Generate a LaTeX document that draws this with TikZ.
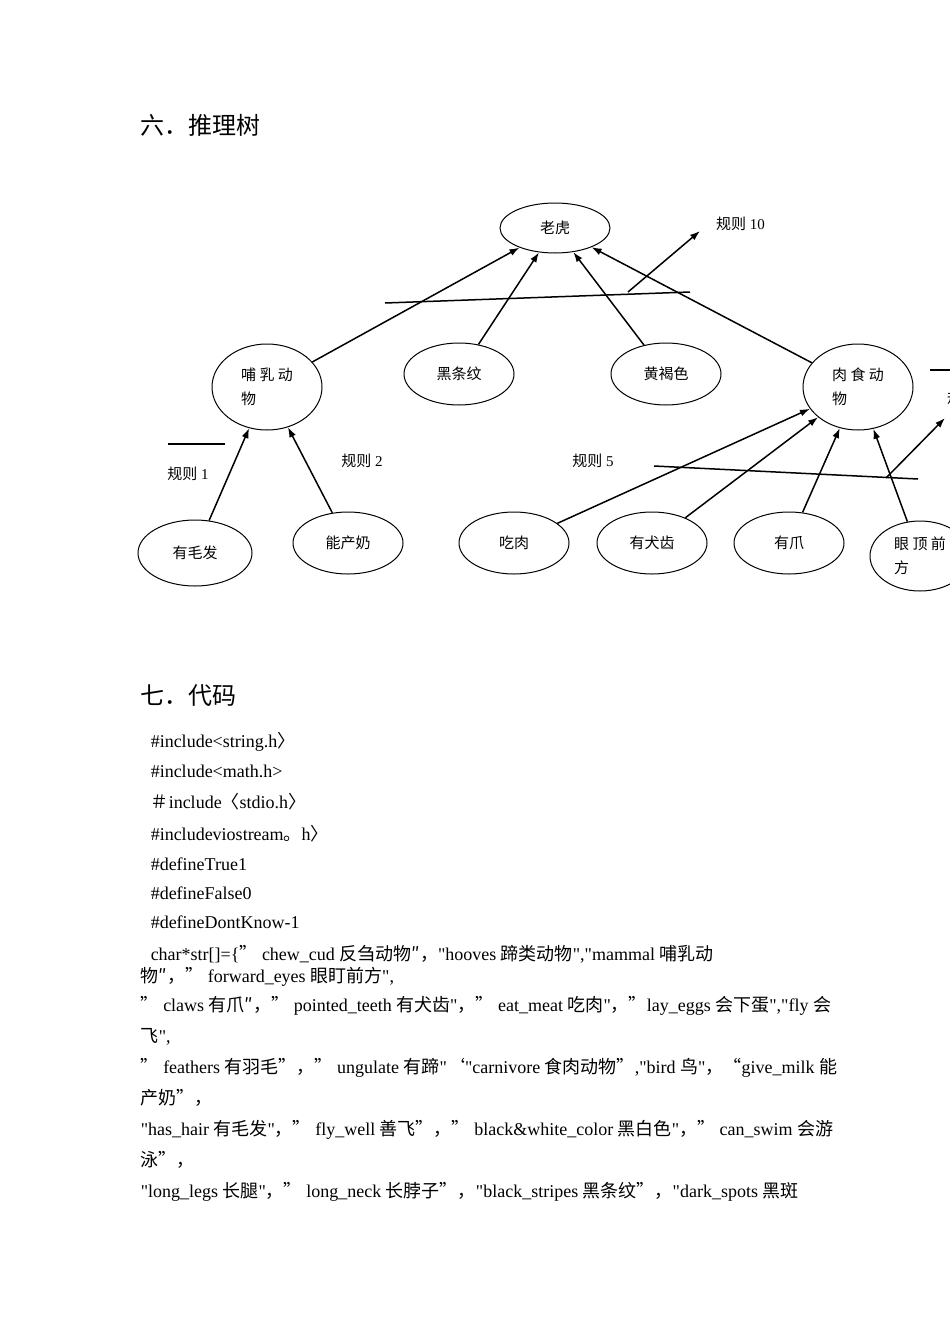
\documentclass[tikz,border=0pt]{standalone}
\usepackage{fontspec}
\setmainfont{Liberation Serif}[Ligatures=TeXOff]
\newfontfamily\cjk{Noto Sans CJK SC}
\newcommand{\zh}[1]{{\cjk #1}}
\newcommand{\dq}{\char34\relax}
\usetikzlibrary{shapes.geometric,arrows.meta}
\tikzstyle{fact}=[draw, line width=1pt, ellipse, minimum width=110pt, minimum height=62pt, inner sep=0pt, font=\fontsize{15}{24}\selectfont]
\tikzstyle{bigfact}=[fact, minimum height=86pt, align=left]
\tikzstyle{rule}=[font=\fontsize{15}{18}\selectfont]
\tikzstyle{code}=[anchor=west, inner sep=0pt, font=\fontsize{18}{22}\selectfont]
\tikzstyle{head}=[anchor=west, inner sep=0pt, font=\fontsize{24}{28}\selectfont]
\begin{document}
\begin{tikzpicture}[x=1pt, y=-1pt, >={Latex[length=10pt,width=7pt]}, line width=1.5pt]
  \useasboundingbox (0,0) rectangle (950,1344);
  \clip (0,0) rectangle (950,1344);
  \node[head] (h6) at (140,125) {\zh{六．推理树}};
  % tree
  \node[fact, minimum height=50pt] (tiger) at (555,228) {\zh{老虎}};
  \node[bigfact] (mammal) at (267,387) {\zh{哺 乳 动}\\\zh{物}};
  \node[fact] (stripes) at (459,374) {\zh{黑条纹}};
  \node[fact] (tawny) at (666,374) {\zh{黄褐色}};
  \node[bigfact] (carn) at (858,387) {\zh{肉 食 动}\\\zh{物}};
  \node[fact, minimum width=114pt, minimum height=66pt] (hair) at (195,553) {\zh{有毛发}};
  \node[fact] (milk) at (348,543) {\zh{能产奶}};
  \node[fact] (meat) at (514,543) {\zh{吃肉}};
  \node[fact] (teeth) at (652,543) {\zh{有犬齿}};
  \node[fact] (claws) at (789,543) {\zh{有爪}};
  \node[fact, minimum width=100pt, minimum height=70pt, align=left] (eyes) at (920,556) {\zh{眼 顶 前}\\\zh{方}};
  \draw[->] (mammal) -- (tiger);
  \draw[->] (stripes) -- (tiger);
  \draw[->] (tawny) -- (tiger);
  \draw[->] (carn) -- (tiger);
  \draw[->] (hair) -- (mammal);
  \draw[->] (milk) -- (mammal);
  \draw[->] (meat) -- (carn);
  \draw[->] (teeth) -- (carn);
  \draw[->] (claws) -- (carn);
  \draw[->] (eyes) -- (carn);
  % rules
  \coordinate (r10a) at (385,303);
  \coordinate (r10b) at (690,292);
  \coordinate (r10c) at (628,292);
  \coordinate (r10d) at (700,231);
  \draw (r10a) -- (r10b);
  \draw[->] (r10c) -- (r10d);
  \node[rule, anchor=west] (r10) at (712,224) {\zh{规则} 10};
  \coordinate (r1a) at (168,444);
  \coordinate (r1b) at (225,444);
  \draw (r1a) -- (r1b);
  \node[rule] (r1) at (188,474) {\zh{规则} 1};
  \node[rule] (r2) at (362,461) {\zh{规则} 2};
  \node[rule] (r5) at (593,461) {\zh{规则} 5};
  \coordinate (r5a) at (654,466);
  \coordinate (r5b) at (918,479);
  \coordinate (r5c) at (886,478);
  \coordinate (r5d) at (945,418);
  \draw (r5a) -- (r5b);
  \draw[->] (r5c) -- (r5d);
  \coordinate (rxa) at (930,370);
  \coordinate (rxb) at (952,370);
  \draw (rxa) -- (rxb);
  \node[rule, anchor=west] (rx) at (943,398) {\zh{规则}};
  % code
  \node[head] (h7) at (140,696) {\zh{七．代码}};
  \node[code] (c1) at (150,742) {\#include<string.h\zh{〉}};
  \node[code] (c2) at (150,771) {\#include<math.h>};
  \node[code] (c3) at (150,802) {\zh{＃}include\zh{〈}stdio.h\zh{〉}};
  \node[code] (c4) at (150,834) {\#includeviostream\zh{。}h\zh{〉}};
  \node[code] (c5) at (150,864) {\#defineTrue1};
  \node[code] (c6) at (150,893) {\#defineFalse0};
  \node[code] (c7) at (150,922) {\#defineDontKnow-1};
  \node[code] (c8) at (150,954) {char*str[]=\{\zh{”} chew\_cud \zh{反刍动物″，}\dq hooves \zh{蹄类动物}\dq,\dq mammal \zh{哺乳动}};
  \node[code] (c9) at (140,977) {\zh{物″，”} forward\_eyes \zh{眼盯前方}\dq,};
  \node[code] (c10) at (140,1006) {\zh{”} claws \zh{有爪″，”} pointed\_teeth \zh{有犬齿}\dq\zh{，”} eat\_meat \zh{吃肉}\dq\zh{，”}lay\_eggs \zh{会下蛋}\dq,\dq fly \zh{会}};
  \node[code] (c11) at (140,1037) {\zh{飞}\dq,};
  \node[code] (c12) at (140,1068) {\zh{”} feathers \zh{有羽毛”，”} ungulate \zh{有蹄}\dq\zh{‘}\dq carnivore \zh{食肉动物”},\dq bird \zh{鸟}\dq\zh{，“}give\_milk \zh{能}};
  \node[code] (c13) at (140,1098) {\zh{产奶”，}};
  \node[code] (c14) at (140,1130) {\dq has\_hair \zh{有毛发}\dq\zh{，”} fly\_well \zh{善飞”，”} black\&white\_color \zh{黑白色}\dq\zh{，”} can\_swim \zh{会游}};
  \node[code] (c15) at (140,1160) {\zh{泳”，}};
  \node[code] (c16) at (140,1192) {\dq long\_legs \zh{长腿}\dq\zh{，”} long\_neck \zh{长脖子”，}\dq black\_stripes \zh{黑条纹”，}\dq dark\_spots \zh{黑斑}};
\end{tikzpicture}
\end{document}
